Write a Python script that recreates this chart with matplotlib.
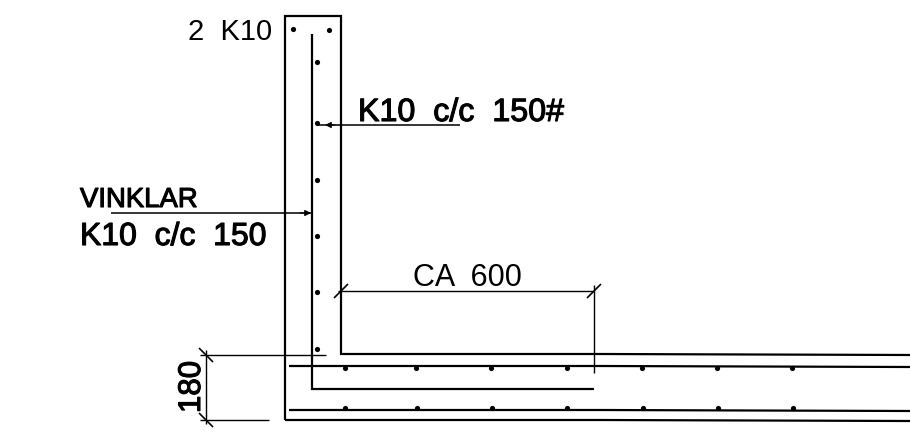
"""
plot.py - wall/slab corner reinforcement detail, drawn in pixel coordinates.
"""

import matplotlib
matplotlib.use("Agg")
import matplotlib.pyplot as plt
import matplotlib.patheffects as pe

plt.rcParams["font.family"] = ["Liberation Sans", "DejaVu Sans"]

# concrete outline and main bars, as (x, y) polylines
wall_outer = [(285, 420), (285, 16), (341, 16), (341, 354), (600, 354), (910, 355)]
slab_bottom = [(285, 420), (600, 420), (910, 421)]
inner_bar = [(312, 34), (312, 389), (594, 389)]
top_bar = [(289, 366), (600, 366), (910, 367)]
bottom_bar = [(289, 410), (600, 410), (910, 411)]

# bar section dots
wall_dots_y = [62, 123, 180, 236, 292, 349]
wall_dots_x = [317, 317, 317, 317, 317, 317]
corner_dots_x = [293, 329]
corner_dots_y = [29, 30]
top_dots_x = [345, 416, 491, 567, 642, 717, 792]
bottom_dots_x = [345, 417, 492, 567, 643, 718, 793]

# dimension and leader lines
dim_lines = [
    [(338, 291), (594, 291)],
    [(594, 285), (594, 373)],
    [(206, 350), (206, 424)],
    [(200, 355), (326, 355)],
    [(200, 420), (269, 420)],
]
ticks_up = [(341, 291), (594, 291)]
ticks_down = [(206, 355), (206, 420)]
leaders = [
    [(460, 125), (318, 125)],
    [(111, 213), (311, 213)],
]
# arrow tip and tail on each leader
arrow_tips = [(325, 125), (311, 213)]
arrow_tails = [(335, 125), (300, 213)]

labels = ["2  K10", "K10  c/c  150#", "VINKLAR", "K10  c/c  150", "CA  600"]
label_x = [188, 358, 80, 80, 413]
label_y = [40, 121, 207, 245, 286]
label_size = [21, 23.2, 19.8, 23, 22]
label_stroke = [0, 0.8, 0.8, 0.8, 0]


def draw_line(ax, pts, lw):
    ax.plot([p[0] for p in pts], [p[1] for p in pts], color="black", lw=lw,
            solid_capstyle="butt", solid_joinstyle="miter")


fig = plt.figure(figsize=(9.1, 4.43), dpi=100)
ax = fig.add_axes([0, 0, 1, 1])
ax.set_xlim(0, 910)
ax.set_ylim(443, 0)
ax.axis("off")

draw_line(ax, wall_outer, 1.6)
draw_line(ax, slab_bottom, 1.6)
draw_line(ax, inner_bar, 1.6)
draw_line(ax, top_bar, 1.6)
draw_line(ax, bottom_bar, 1.6)

for pts in dim_lines:
    draw_line(ax, pts, 1.0)

for x, y in ticks_up:
    draw_line(ax, [(x - 7, y + 7), (x + 7, y - 7)], 1.2)
for x, y in ticks_down:
    draw_line(ax, [(x - 7, y - 7), (x + 7, y + 7)], 1.2)

for pts in leaders:
    draw_line(ax, pts, 1.1)
for tip, tail in zip(arrow_tips, arrow_tails):
    ax.annotate("", xy=tip, xytext=tail,
                arrowprops=dict(arrowstyle="-|>", color="black", lw=0.8,
                                mutation_scale=9, shrinkA=0, shrinkB=0))

ax.scatter(wall_dots_x, wall_dots_y, s=14, color="black", linewidths=0)
ax.scatter(corner_dots_x, corner_dots_y, s=14, color="black", linewidths=0)
ax.scatter(top_dots_x, [368] * len(top_dots_x), s=14, color="black", linewidths=0)
ax.scatter(bottom_dots_x, [408] * len(bottom_dots_x), s=14, color="black", linewidths=0)

for text, x, y, size, stroke in zip(labels, label_x, label_y, label_size, label_stroke):
    t = ax.text(x, y, text, fontsize=size, ha="left", va="baseline", color="black")
    if stroke:
        t.set_path_effects([pe.withStroke(linewidth=stroke, foreground="black")])

dim_text = ax.text(207, 387, "180", fontsize=22.5, rotation=90, ha="right", va="center", color="black")
dim_text.set_path_effects([pe.withStroke(linewidth=0.8, foreground="black")])

fig.savefig("out.png", dpi=100)
plt.close(fig)
